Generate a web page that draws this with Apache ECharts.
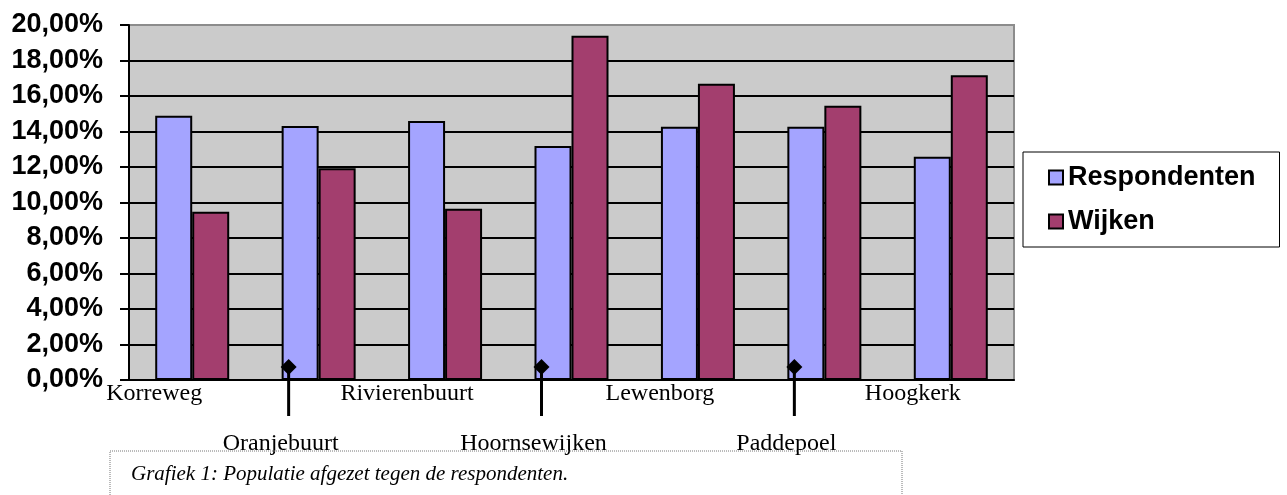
<!DOCTYPE html>
<html>
<head>
<meta charset="utf-8">
<title>Grafiek 1</title>
<script src="https://cdn.jsdelivr.net/npm/echarts@6/dist/echarts.min.js"></script>
<style>
  html, body { margin: 0; padding: 0; background: #fff; }
  #chart { width: 1287px; height: 495px; }
</style>
</head>
<body>
<div id="chart"></div>
<script>
// wijken (categorieën)
const CATEGORIES = ['Korreweg', 'Oranjebuurt', 'Rivierenbuurt', 'Hoornsewijken', 'Lewenborg', 'Paddepoel', 'Hoogkerk'];
// aandeel per wijk
const RESPONDENTEN = [0.1489, 0.1431, 0.1459, 0.1318, 0.1427, 0.1427, 0.1258];
const WIJKEN = [0.0948, 0.1193, 0.0965, 0.1940, 0.1669, 0.1545, 0.1717];
// y-as
const Y_MIN = 0;
const Y_MAX = 0.20;
const Y_STEP = 0.02;

const CAPTION = 'Grafiek 1: Populatie afgezet tegen de respondenten.';

const COLORS = {
  resp: '#a4a4ff',
  wijk: '#a33e6e',
  plot: '#cbcbcb',
  border: '#8c8c8c'
};

// label verschuiving t.o.v. categorie-midden
const LABEL_SHIFT = 38;
const LEADER_SHIFT = 30;

function pct(v) {
  return (v * 100).toFixed(2).replace('.', ',') + '%';
}

const chart = echarts.init(document.getElementById('chart'));

chart.setOption({
  backgroundColor: '#fff',
  animation: false,
  grid: {
    left: 129, right: 273, top: 25, bottom: 115,
    show: true,
    backgroundColor: COLORS.plot,
    borderColor: COLORS.border,
    borderWidth: 2
  },
  legend: {
    orient: 'vertical',
    left: 1023,
    top: 152,
    padding: [12, 24, 12, 25],
    itemGap: 17,
    itemWidth: 14,
    itemHeight: 14,
    icon: 'rect',
    backgroundColor: '#fff',
    borderColor: '#000',
    borderWidth: 1,
    textStyle: { fontFamily: 'Liberation Sans', fontWeight: 'bold', fontSize: 27, color: '#000' },
    data: ['Respondenten', 'Wijken']
  },
  xAxis: {
    type: 'category',
    data: CATEGORIES,
    axisLine: { lineStyle: { color: '#000', width: 2 } },
    axisTick: { show: false },
    axisLabel: {
      interval: 0,
      margin: 2,
      formatter: (v, i) => (i % 2 === 0 ? '{a|' + v + '}' : '{b|' + v + '}'),
      rich: {
        a: { fontFamily: 'Liberation Serif', fontSize: 24, color: '#000', padding: [0, LABEL_SHIFT * 2, 0, 0] },
        b: { fontFamily: 'Liberation Serif', fontSize: 24, color: '#000', padding: [50, LABEL_SHIFT * 2, 0, 0] }
      }
    }
  },
  yAxis: {
    type: 'value',
    min: Y_MIN,
    max: Y_MAX,
    interval: Y_STEP,
    axisLine: { show: true, lineStyle: { color: '#000', width: 2 } },
    axisTick: { show: true, length: 9, lineStyle: { color: '#000', width: 2 } },
    axisLabel: {
      margin: 26,
      formatter: pct,
      fontFamily: 'Liberation Sans',
      fontWeight: 'bold',
      fontSize: 27,
      color: '#000'
    },
    splitLine: { show: true, showMaxLine: false, lineStyle: { color: '#000', width: 2 } }
  },
  series: [
    {
      name: 'Respondenten',
      type: 'bar',
      data: RESPONDENTEN,
      barWidth: 37,
      barGap: '0%',
      itemStyle: { color: COLORS.resp, borderColor: '#000', borderWidth: 2 }
    },
    {
      name: 'Wijken',
      type: 'bar',
      data: WIJKEN,
      barWidth: 37,
      barGap: '0%',
      itemStyle: { color: COLORS.wijk, borderColor: '#000', borderWidth: 2 }
    }
  ]
});

// aanwijslijntjes met ruit bij de onderste labels + onderschrift
function addDecorations() {
  const y0 = chart.convertToPixel({ yAxisIndex: 0 }, 0);
  const elements = [];
  CATEGORIES.forEach((name, i) => {
    if (i % 2 === 0) return;
    const x = chart.convertToPixel({ xAxisIndex: 0 }, name) - LEADER_SHIFT;
    elements.push({
      type: 'line',
      shape: { x1: x, y1: y0 - 13, x2: x, y2: y0 + 36 },
      style: { stroke: '#000', lineWidth: 3 },
      z: 100
    });
    elements.push({
      type: 'polygon',
      shape: { points: [[x, y0 - 21], [x + 8, y0 - 13], [x, y0 - 5], [x - 8, y0 - 13]] },
      style: { fill: '#000' },
      z: 101
    });
  });
  elements.push({
    type: 'rect',
    shape: { x: 110, y: 451, width: 792, height: 60 },
    style: { fill: 'none', stroke: '#777', lineWidth: 1, lineDash: [1, 1] },
    z: 50
  });
  elements.push({
    type: 'text',
    x: 131,
    y: 474,
    style: {
      text: CAPTION,
      font: 'italic 21px "Liberation Serif"',
      fill: '#000',
      verticalAlign: 'middle'
    },
    z: 51
  });
  chart.setOption({ graphic: elements });
}

addDecorations();
</script>
</body>
</html>
